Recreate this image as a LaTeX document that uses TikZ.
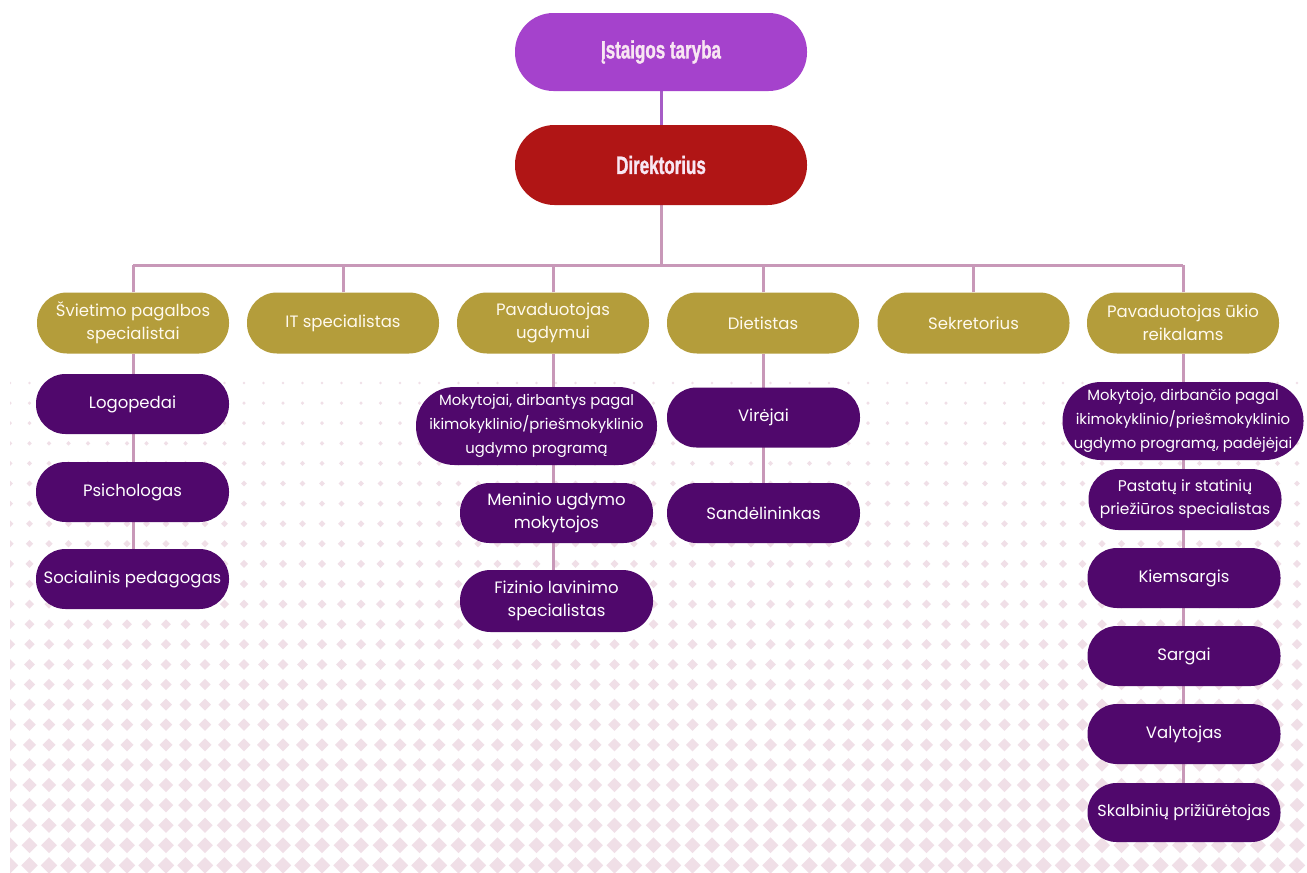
\documentclass[tikz,border=0pt]{standalone}
\usepackage{fontspec}
\setmainfont{Poppins}
\newfontfamily\titlefont{Liberation Sans}[FakeStretch=0.68,FakeBold=1.2]
\definecolor{tarc}{HTML}{A542CC}
\definecolor{dirc}{HTML}{B01515}
\definecolor{olivec}{HTML}{B49D3B}
\definecolor{purpc}{HTML}{50086C}
\definecolor{linec}{HTML}{C898B8}
\definecolor{toplinec}{HTML}{A65CC6}
\definecolor{patc}{HTML}{F0DFE7}
\definecolor{titletext}{HTML}{F8E6F2}
\definecolor{olivetext}{HTML}{FFFAEE}
\pgfdeclarelayer{pat}
\pgfdeclarelayer{lines}
\pgfsetlayers{pat,lines,main}
\begin{document}
\begin{tikzpicture}[x=1pt,y=-1pt,
  pillbase/.style={rectangle, inner sep=0pt, align=center, text=white,
    font=\fontsize{16.5}{23}\selectfont},
  topbox/.style={pillbase, minimum width=292pt, minimum height=78pt,
    rounded corners=38.5pt, text=titletext,
    font=\titlefont\bfseries\fontsize{25}{28}\selectfont},
  lvlbox/.style={pillbase, fill=olivec, minimum width=192pt, minimum height=61pt,
    rounded corners=30pt, text=olivetext},
  subbox/.style={pillbase, fill=purpc, minimum width=193pt, minimum height=60pt,
    rounded corners=29.5pt},
  widebox/.style={pillbase, fill=purpc, minimum width=241pt, minimum height=78pt,
    rounded corners=38.5pt, font=\fontsize{14.8}{24}\selectfont},
  conn/.style={draw=linec, line width=3pt},
  topconn/.style={draw=toplinec, line width=3pt}]
\useasboundingbox (0,0) rectangle (1307,873);

% ---------- background pattern ----------
\begin{pgfonlayer}{pat}
\fill[white] (0,0) rectangle (1307,873);
\begin{scope}
\clip (10,370) rectangle (1307,873);
\foreach \j in {0,...,24}{
  \pgfmathsetmacro\yy{383+20.1*\j}
  \pgfmathsetmacro\rr{1.4+6.8*\j/24}
  \foreach \k in {0,...,66}{
    \fill[patc] ({10+19.5*\k},\yy) +(-\rr,0) -- +(0,-\rr) -- +(\rr,0) -- +(0,\rr) -- cycle;
  }
}
\end{scope}
\end{pgfonlayer}

% ---------- nodes ----------
\node[topbox, fill=tarc] (tar) at (661,52) {Įstaigos taryba};
\node[topbox, fill=dirc, minimum height=80pt, rounded corners=39.5pt] (dir) at (661,165) {Direktorius};

\node[lvlbox] (s1) at (133,323) {Švietimo pagalbos\\specialistai};
\node[lvlbox] (s2) at (343,323) {IT specialistas};
\node[lvlbox] (s3) at (553,323) {Pavaduotojas\\ugdymui};
\node[lvlbox] (s4) at (763,323) {Dietistas};
\node[lvlbox] (s5) at (973.5,323) {Sekretorius};
\node[lvlbox] (s6) at (1183,323) {Pavaduotojas ūkio\\reikalams};

\node[subbox] (c1a) at (132.5,404) {Logopedai};
\node[subbox] (c1b) at (132.5,492) {Psichologas};
\node[subbox] (c1c) at (132.5,579) {Socialinis pedagogas};

\node[widebox] (c3a) at (536.5,426) {Mokytojai, dirbantys pagal\\ikimokyklinio/priešmokyklinio\\ugdymo programą};
\node[subbox] (c3b) at (556.5,513) {Meninio ugdymo\\mokytojos};
\node[subbox, minimum height=62pt, rounded corners=30.5pt] (c3c) at (556.5,601) {Fizinio lavinimo\\specialistas};

\node[subbox] (c4a) at (763.5,417.5) {Virėjai};
\node[subbox] (c4b) at (763.5,513) {Sandėlininkas};

\node[widebox] (c6a) at (1183,421) {Mokytojo, dirbančio pagal\\ikimokyklinio/priešmokyklinio\\ugdymo programą, padėjėjai};
\node[subbox, minimum height=61pt, rounded corners=30pt, font=\fontsize{15.5}{23}\selectfont] (c6b) at (1185,499.5) {Pastatų ir statinių\\priežiūros specialistas};
\node[subbox] (c6c) at (1184,578) {Kiemsargis};
\node[subbox] (c6d) at (1184,656) {Sargai};
\node[subbox] (c6e) at (1184,734) {Valytojas};
\node[subbox, minimum height=59pt, rounded corners=29pt, font=\fontsize{16}{23}\selectfont] (c6f) at (1184,812.5) {Skalbinių prižiūrėtojas};

\coordinate (bar) at (661,265);

% ---------- connectors ----------
\begin{pgfonlayer}{lines}
\draw[topconn] (tar) -- (dir);
\draw[conn] (dir) -- (dir |- bar);
\draw[conn] (s1 |- bar) -- (s6 |- bar);
\foreach \n in {s1,s2,s3,s4,s5,s6}{
  \draw[conn] (\n) -- (\n |- bar);
}
\draw[conn] (s1) -- (s1 |- c1c);
\draw[conn] (s3) -- (s3 |- c3c);
\draw[conn] (s4) -- (s4 |- c4b);
\draw[conn] (s6) -- (s6 |- c6f);
\end{pgfonlayer}
\end{tikzpicture}
\end{document}
